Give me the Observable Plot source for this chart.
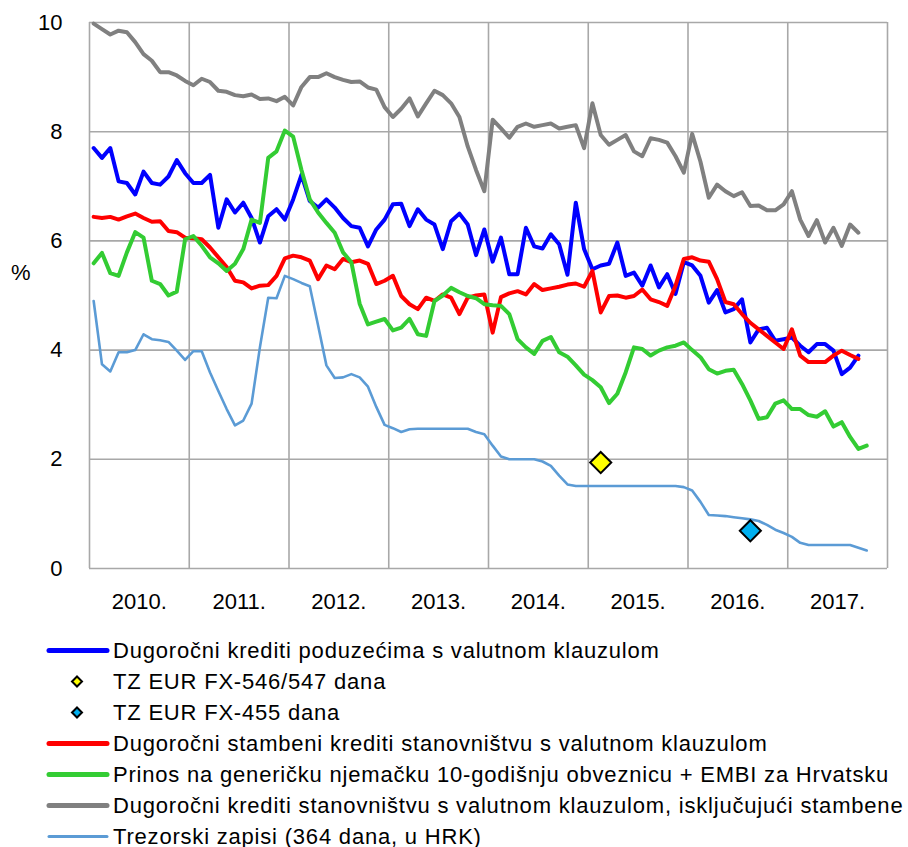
<!DOCTYPE html>
<html><head><meta charset="utf-8">
<script src="https://cdn.jsdelivr.net/npm/d3@7"></script>
<script src="https://cdn.jsdelivr.net/npm/@observablehq/plot@0.6"></script>
<style>
body{margin:0;background:#fff;font-family:"Liberation Sans",Arial,sans-serif;color:#000;}
#wrap{position:relative;width:908px;height:847px;overflow:hidden;}
#pct{position:absolute;left:11px;top:258px;font-size:22px;line-height:30px;}
#legend{position:absolute;left:0;top:625px;width:908px;height:222px;}
.sw{position:absolute;left:46px;width:64px;height:31px;}
.lt{position:absolute;left:113px;height:31px;line-height:31px;font-size:22px;letter-spacing:0.8px;white-space:nowrap;}
</style></head><body>
<div id="wrap"><div id="chart"></div><div id="pct">%</div><div id="legend"></div></div>
<script>
// ---- data (monthly, Jan 2010 onward) ----
const years = ["2010.","2011.","2012.","2013.","2014.","2015.","2016.","2017."];
const yTicks = [0,2,4,6,8,10];

const poduzeca = [
7.70,7.52,7.70,7.09,7.06,6.85,7.27,7.06,7.03,7.18,7.48,7.24,
7.06,7.06,7.21,6.24,6.76,6.52,6.70,6.42,5.97,6.45,6.58,6.39,
6.76,7.21,6.73,6.61,6.76,6.61,6.42,6.27,6.24,5.90,6.21,6.39,
6.67,6.68,6.27,6.58,6.39,6.30,5.85,6.36,6.50,6.30,5.74,6.21,
5.62,6.06,5.39,5.39,6.24,5.90,5.86,6.12,5.94,5.38,6.70,5.85,
5.48,5.55,5.58,5.97,5.36,5.42,5.18,5.55,5.15,5.39,5.03,5.61,
5.55,5.36,4.87,5.10,4.69,4.75,4.93,4.14,4.38,4.41,4.17,4.20,
4.23,4.08,3.96,4.11,4.11,3.99,3.56,3.68,3.90];

const stambeni = [
6.44,6.42,6.44,6.39,6.45,6.50,6.42,6.35,6.36,6.18,6.16,6.06,
6.05,6.03,5.88,5.70,5.52,5.27,5.24,5.13,5.18,5.19,5.36,5.68,
5.73,5.70,5.64,5.30,5.55,5.48,5.67,5.61,5.64,5.58,5.21,5.27,
5.36,4.99,4.84,4.75,4.96,4.90,5.02,4.96,4.66,4.96,5.00,5.02,
4.32,4.97,5.04,5.08,5.02,5.21,5.10,5.13,5.16,5.20,5.22,5.16,
5.45,4.69,4.99,5.00,4.96,4.99,5.11,4.93,4.88,4.81,5.18,5.67,
5.70,5.64,5.62,5.30,4.88,4.84,4.66,4.50,4.38,4.26,4.14,4.02,
4.38,3.90,3.78,3.78,3.78,3.90,3.99,3.91,3.84];

const prinos = [
5.59,5.78,5.41,5.36,5.79,6.16,6.06,5.27,5.21,5.00,5.07,6.03,
6.09,5.91,5.70,5.59,5.45,5.58,5.85,6.39,6.33,7.52,7.64,8.02,
7.91,7.30,6.76,6.52,6.33,6.15,5.79,5.61,4.85,4.47,4.52,4.57,
4.36,4.41,4.57,4.29,4.26,4.90,5.00,5.14,5.06,4.99,4.95,4.84,
4.82,4.81,4.66,4.20,4.05,3.93,4.17,4.24,3.96,3.88,3.72,3.55,
3.45,3.32,3.03,3.20,3.59,4.05,4.02,3.90,3.99,4.05,4.08,4.14,
4.00,3.87,3.65,3.57,3.62,3.64,3.38,3.08,2.74,2.77,3.02,3.08,
2.92,2.92,2.81,2.78,2.88,2.60,2.68,2.41,2.19,2.25];

const nestambeni = [
9.98,9.88,9.78,9.85,9.82,9.64,9.42,9.30,9.09,9.09,9.03,8.93,
8.85,8.97,8.91,8.75,8.73,8.67,8.65,8.68,8.60,8.61,8.56,8.64,
8.48,8.82,9.00,9.00,9.07,9.00,8.95,8.91,8.92,8.81,8.77,8.45,
8.27,8.42,8.61,8.28,8.52,8.75,8.67,8.52,8.27,7.73,7.30,6.91,
8.22,8.06,7.89,8.09,8.15,8.09,8.12,8.15,8.06,8.09,8.12,7.70,
8.52,7.94,7.76,7.85,7.94,7.64,7.55,7.88,7.85,7.80,7.55,7.25,
7.96,7.45,6.79,7.03,6.91,6.82,6.89,6.64,6.65,6.56,6.56,6.67,
6.91,6.39,6.09,6.38,5.97,6.24,5.91,6.30,6.15];

const trezorski = [
4.90,3.74,3.61,3.96,3.96,4.00,4.29,4.20,4.18,4.15,3.99,3.82,
3.98,3.98,3.59,3.25,2.92,2.62,2.71,3.02,4.05,4.96,4.95,5.36,
5.30,5.23,5.17,4.45,3.72,3.49,3.50,3.56,3.50,3.33,2.96,2.63,
2.57,2.50,2.55,2.56,2.56,2.56,2.56,2.56,2.56,2.56,2.50,2.46,
2.25,2.05,2.00,2.00,2.00,2.00,1.96,1.88,1.70,1.54,1.51,1.51,
1.51,1.51,1.51,1.51,1.51,1.51,1.51,1.51,1.51,1.51,1.51,1.49,
1.43,1.22,0.98,0.97,0.96,0.94,0.92,0.90,0.87,0.80,0.71,0.65,
0.58,0.47,0.43,0.43,0.43,0.43,0.43,0.43,0.38,0.33];

// single observations: [month index from Jan 2010, value]
const tz546 = [[61, 1.94]];
const tz455 = [[79, 0.69]];

const labels = [
 "Dugoročni krediti poduzećima s valutnom klauzulom",
 "TZ EUR FX-546/547 dana",
 "TZ EUR FX-455 dana",
 "Dugoročni stambeni krediti stanovništvu s valutnom klauzulom",
 "Prinos na generičku njemačku 10-godišnju obveznicu + EMBI za Hrvatsku",
 "Dugoročni krediti stanovništvu s valutnom klauzulom, isključujući stambene",
 "Trezorski zapisi (364 dana, u HRK)"
];
const colors = ["#0000ff","#ffff00","#00b0f0","#ff0000","#33cc33","#808080","#5b9bd5"];

// ---- build ----
const nMonths = years.length * 12;
const yearEdges = d3.range(0, nMonths + 1, 12);
const yearMids = years.map((_, i) => i * 12 + 6);
const rows = vals => vals.map((v, i) => ({m: i + 0.5, v}));
const pts = arr => arr.map(([i, v]) => ({m: i + 0.5, v}));

const lines = [
  {vals: poduzeca, c: colors[0], w: 4},
  {vals: stambeni, c: colors[3], w: 4},
  {vals: prinos, c: colors[4], w: 4},
  {vals: nestambeni, c: colors[5], w: 4},
  {vals: trezorski, c: colors[6], w: 2.6}
];

const grid = "#a8a8a8";
const chart = Plot.plot({
  width: 908, height: 625,
  marginLeft: 89, marginRight: 21, marginTop: 22, marginBottom: 57,
  x: {domain: [0, nMonths]},
  y: {domain: [0, 10]},
  style: {fontFamily: "'Liberation Sans', Arial, sans-serif", fontSize: "22px", color: "#000", background: "#fff", overflow: "visible"},
  marks: [
    Plot.ruleX(yearEdges, {stroke: grid, strokeWidth: 1.6}),
    Plot.ruleY(yTicks, {stroke: grid, strokeWidth: 1.6}),
    Plot.axisY(yTicks, {tickSize: 0, tickPadding: 27, fontSize: 22, label: null, tickFormat: d => String(d)}),
    Plot.axisX(yearMids, {tickSize: 0, tickPadding: 25, fontSize: 22, label: null, tickFormat: d => years[Math.floor(d / 12)]}),
    ...lines.map(s => Plot.line(rows(s.vals), {x: "m", y: "v", stroke: s.c, strokeWidth: s.w, strokeLinejoin: "round", strokeLinecap: "round"})),
    Plot.dot(pts(tz546), {x: "m", y: "v", symbol: "diamond2", r: 9.5, fill: colors[1], stroke: "#000", strokeWidth: 2}),
    Plot.dot(pts(tz455), {x: "m", y: "v", symbol: "diamond2", r: 9.5, fill: colors[2], stroke: "#000", strokeWidth: 2})
  ]
});
document.getElementById("chart").appendChild(chart);

// ---- legend ----
const leg = document.getElementById("legend");
const kinds = ["line","diamond","diamond","line","line","line","line"];
const widths = [5,0,0,5,5,5,3];
labels.forEach((t, k) => {
  const top = 9.5 + 31 * k;
  const ns = "http://www.w3.org/2000/svg";
  const svg = document.createElementNS(ns, "svg");
  svg.setAttribute("class", "sw");
  svg.setAttribute("width", 64); svg.setAttribute("height", 31);
  svg.style.top = top + "px";
  if (kinds[k] === "line") {
    const l = document.createElementNS(ns, "line");
    l.setAttribute("x1", 3); l.setAttribute("x2", 61);
    l.setAttribute("y1", 15.5); l.setAttribute("y2", 15.5);
    l.setAttribute("stroke", colors[k]); l.setAttribute("stroke-width", widths[k]);
    l.setAttribute("stroke-linecap", "round");
    svg.appendChild(l);
  } else {
    const p = document.createElementNS(ns, "path");
    const cx = 31, cy = 15.5, h = 5;
    p.setAttribute("d", `M${cx},${cy-h}L${cx+h},${cy}L${cx},${cy+h}L${cx-h},${cy}Z`);
    p.setAttribute("fill", colors[k]); p.setAttribute("stroke", "#000"); p.setAttribute("stroke-width", 2);
    svg.appendChild(p);
  }
  leg.appendChild(svg);
  const d = document.createElement("div");
  d.className = "lt"; d.style.top = top + "px"; d.textContent = t;
  leg.appendChild(d);
});
</script>
</body></html>
